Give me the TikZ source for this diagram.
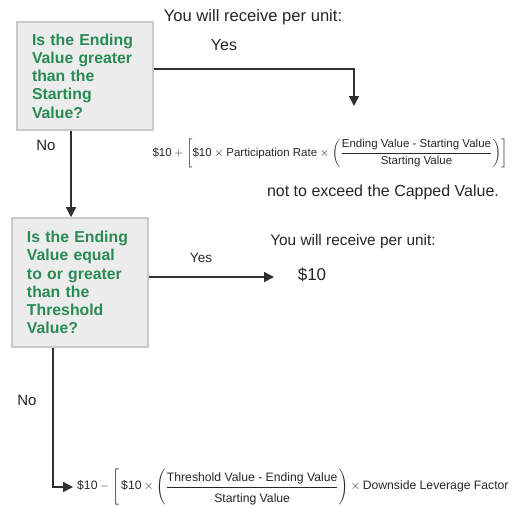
\documentclass[tikz,border=0pt]{standalone}
\usepackage{fontspec}
\setmainfont{Liberation Sans}
\usepackage{amsmath}
\usetikzlibrary{arrows.meta,positioning,calc}
\definecolor{askGreen}{RGB}{40,138,84}
\definecolor{boxGray}{RGB}{236,236,236}
\definecolor{edgeGray}{RGB}{202,202,202}
\definecolor{lineDark}{RGB}{48,48,48}
\tikzset{
  question/.style={draw=edgeGray, line width=1.6pt, fill=boxGray, text=askGreen, align=left, text width=106pt, inner xsep=15pt, minimum width=136pt, font=\fontsize{15.8}{18.3}\selectfont\bfseries},
  answer/.style={inner sep=0pt, text=black!85, font=\fontsize{16}{19}\selectfont},
  branch/.style={inner sep=0pt, text=black!85, font=\fontsize{15}{18}\selectfont},
  formula/.style={inner sep=0pt, text=black!85, font=\fontsize{11.5}{14}\selectfont},
  arrow/.style={-{Triangle[length=10pt,width=10pt]}, line width=1.5pt, draw=lineDark}
}
\newcommand{\tx}[1]{\text{#1}}

\begin{document}
\begin{tikzpicture}[x=1pt,y=-1pt]
  \useasboundingbox (0,0) rectangle (516,506);
  \fill[white] (0,0) rectangle (516,506);

  % first question
  \node[question, minimum height=108pt] (ask1) at (85,76) {Is the Ending\\Value greater\\than the\\Starting\\Value?};
  \node[answer, font=\fontsize{16.6}{19}\selectfont] (recv1) at (253,17) {You will receive per unit:};
  \node[answer] (yes1) at (224,45) {Yes};
  \node[branch] (no1) at (46,145) {No};
  \coordinate (tip1) at (354,106);
  \node[formula] (pay1) at (330,153) {$\tx{\$10} + \left[\tx{\$10}\times\tx{Participation Rate}\times\left(\dfrac{\tx{Ending Value - Starting Value}}{\tx{Starting Value}}\right)\right]$};
  \node[answer] (capnote) at (383,192) {not to exceed the Capped Value.};

  % second question
  \node[question, minimum height=129pt] (ask2) at (80,282.5) {Is the Ending\\Value equal\\to or greater\\than the\\Threshold\\Value?};
  \node[answer, font=\fontsize{15.4}{18}\selectfont] (recv2) at (353,242) {You will receive per unit:};
  \node[branch, font=\fontsize{13.5}{16}\selectfont] (yes2) at (201,258) {Yes};
  \node[answer, font=\fontsize{17}{20}\selectfont] (flat) at (312,275) {\$10};
  \coordinate (tip2) at (274,277);
  \node[branch] (no2) at (27,400) {No};
  \node[formula, font=\fontsize{12.2}{15}\selectfont, anchor=west] (pay2) at (77,487) {$\tx{\$10} - \left[\,\tx{\$10}\times\left(\dfrac{\rule[-3pt]{0pt}{14pt}\tx{Threshold Value - Ending Value}}{\rule{0pt}{14pt}\tx{Starting Value}}\right)\times\tx{Downside Leverage Factor}\right.$};

  \draw[arrow] ([yshift=7pt]ask1.east) -| (tip1);
  \draw[arrow] ([xshift=-14pt]ask1.south) -- ([xshift=-9pt]ask2.north);
  \draw[arrow] (ask2.east |- tip2) -- (tip2);
  \draw[arrow, shorten >=4pt] ([xshift=-27pt]ask2.south) |- (pay2.west);
\end{tikzpicture}
\end{document}
